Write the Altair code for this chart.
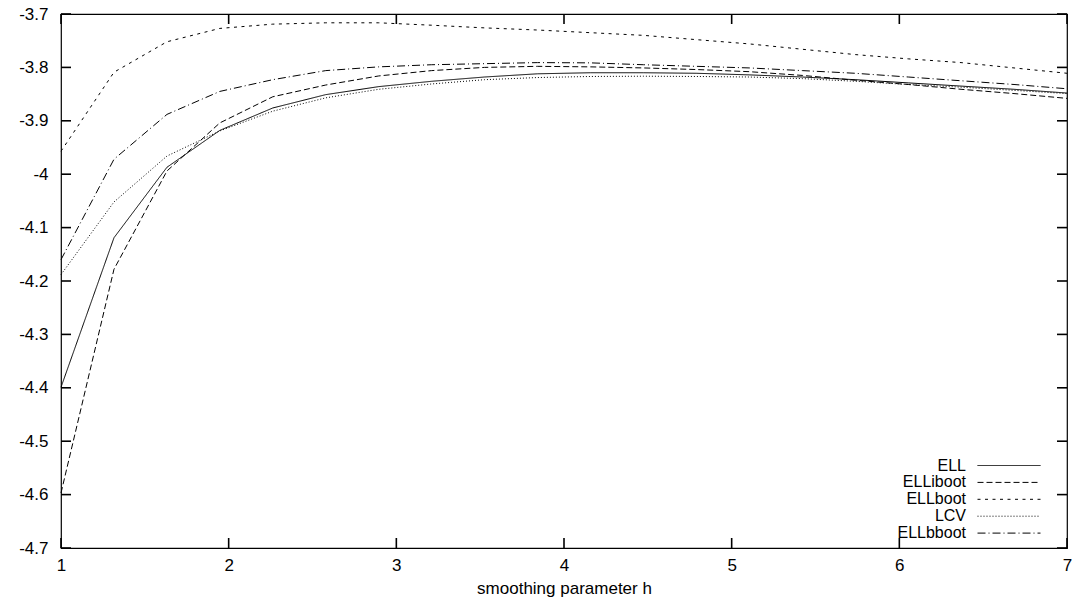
import altair as alt
import pandas as pd

# smoothing parameter grid (x values)
h = [1.0, 1.316, 1.632, 1.947, 2.263, 2.579, 2.895, 3.211, 3.526, 3.842,
     4.158, 4.474, 4.789, 5.105, 5.421, 5.737, 6.053, 6.368, 6.684, 7.0]

series_names = ["ELL", "ELLiboot", "ELLboot", "LCV", "ELLbboot"]

ell = [-4.399, -4.119, -3.987, -3.918, -3.876, -3.851, -3.836, -3.826, -3.818, -3.812,
       -3.810, -3.810, -3.811, -3.814, -3.818, -3.823, -3.829, -3.835, -3.841, -3.848]
elliboot = [-4.597, -4.178, -3.994, -3.904, -3.855, -3.833, -3.816, -3.806, -3.800, -3.798,
            -3.799, -3.801, -3.804, -3.808, -3.815, -3.824, -3.832, -3.841, -3.849, -3.858]
ellboot = [-3.957, -3.809, -3.752, -3.727, -3.719, -3.7165, -3.7165, -3.721, -3.726, -3.730,
           -3.735, -3.740, -3.748, -3.756, -3.766, -3.776, -3.784, -3.791, -3.801, -3.811]
lcv = [-4.188, -4.052, -3.966, -3.919, -3.882, -3.857, -3.841, -3.831, -3.823, -3.819,
       -3.817, -3.8165, -3.817, -3.818, -3.821, -3.826, -3.832, -3.837, -3.843, -3.849]
ellbboot = [-4.160, -3.972, -3.888, -3.845, -3.823, -3.806, -3.799, -3.795, -3.793, -3.791,
            -3.7915, -3.795, -3.798, -3.801, -3.806, -3.811, -3.818, -3.825, -3.832, -3.840]

x_ticks = [1, 2, 3, 4, 5, 6, 7]
y_ticks = [-4.7, -4.6, -4.5, -4.4, -4.3, -4.2, -4.1, -4, -3.9, -3.8, -3.7]

dashes = [[1, 0], [6, 3], [3, 4.5], [1, 2], [8, 3, 1, 3]]

rows = []
for name, vals in zip(series_names, [ell, elliboot, ellboot, lcv, ellbboot]):
    for hv, v in zip(h, vals):
        rows.append({"h": hv, "value": v, "series": name})
df = pd.DataFrame(rows)
xt = pd.DataFrame({"t": x_ticks})
yt = pd.DataFrame({"t": y_ticks})

FONT = "Liberation Sans"
W, H = 1006, 534
TICK = 10
xscale = alt.Scale(domain=[1, 7], nice=False, zero=False)
yscale = alt.Scale(domain=[-4.7, -3.7], nice=False, zero=False)

common_axis = dict(domain=False, grid=False, ticks=False, tickSize=0, labelFlush=False)
x_axis = alt.Axis(orient="bottom", values=x_ticks, title="smoothing parameter h",
                  labelPadding=9, titlePadding=7,
                  labelExpr="toString(datum.value)", **common_axis)
y_axis = alt.Axis(orient="left", values=y_ticks, title=None,
                  labelPadding=13, labelExpr="toString(datum.value)", **common_axis)

lines = alt.Chart(df).mark_line(strokeWidth=1, color="black").encode(
    x=alt.X("h:Q", scale=xscale, axis=x_axis),
    y=alt.Y("value:Q", scale=yscale, axis=y_axis),
    strokeDash=alt.StrokeDash(
        "series:N",
        scale=alt.Scale(domain=series_names, range=dashes),
        legend=alt.Legend(title=None, orient="none", legendX=940, legendY=443.5,
                          direction="vertical", symbolType="M-4.2,0H4.2", symbolSize=225,
                          symbolStrokeWidth=1, symbolStrokeColor="black",
                          labelAlign="right", labelOffset={"expr": "-51"}, labelFont=FONT,
                          labelFontSize=16, labelColor="black", rowPadding=0.9),
    ),
)

tick_style = dict(color="black", strokeWidth=1.6, opacity=1)
bottom_ticks = alt.Chart(xt).mark_rule(**tick_style).encode(
    x=alt.X("t:Q", scale=xscale, axis=x_axis), y=alt.value(H), y2=alt.value(H - TICK))
top_ticks = alt.Chart(xt).mark_rule(**tick_style).encode(
    x=alt.X("t:Q", scale=xscale, axis=x_axis), y=alt.value(0), y2=alt.value(TICK))
left_ticks = alt.Chart(yt).mark_rule(**tick_style).encode(
    y=alt.Y("t:Q", scale=yscale, axis=y_axis), x=alt.value(0), x2=alt.value(TICK))
right_ticks = alt.Chart(yt).mark_rule(**tick_style).encode(
    y=alt.Y("t:Q", scale=yscale, axis=y_axis), x=alt.value(W), x2=alt.value(W - TICK))

chart = alt.layer(lines, bottom_ticks, top_ticks, left_ticks, right_ticks).properties(
    width=W, height=H,
    autosize=alt.AutoSizeParams(type="none"),
    padding={"left": 61, "top": 14, "right": 7, "bottom": 57},
    background="white",
).configure_view(
    stroke="black", strokeWidth=1.2
).configure_axis(
    labelFont=FONT, labelFontSize=17, labelColor="black",
    titleFont=FONT, titleFontSize=17, titleFontWeight="normal", titleColor="black",
)

chart.save("out.html", embed_options={"renderer": "svg", "actions": False})
